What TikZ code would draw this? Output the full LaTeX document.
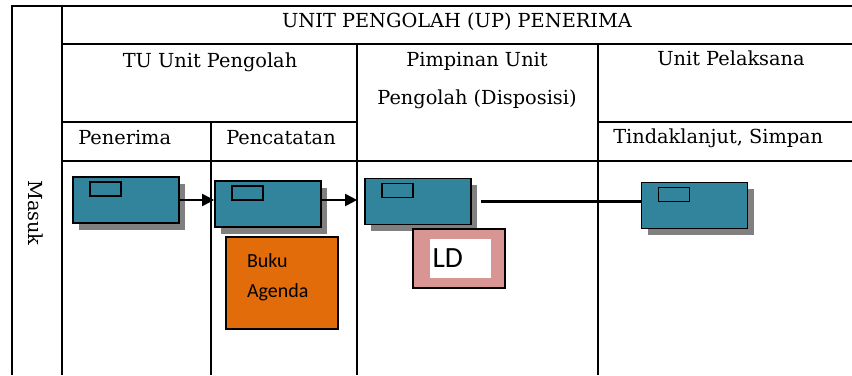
\documentclass[tikz,border=0pt]{standalone}
\usepackage{fontspec}
\setmainfont{DejaVu Serif}
\newfontfamily\calibfont{Carlito}
\usetikzlibrary{arrows.meta,shadows,positioning}

\definecolor{docteal}{RGB}{49,132,155}
\definecolor{agendaorange}{RGB}{227,108,10}
\definecolor{ldpink}{RGB}{217,149,148}

\begin{document}
\begin{tikzpicture}[
  x=0.75pt, y=-0.75pt,
  font=\fontsize{14.5}{17}\selectfont,
  grid/.style={line width=1.9pt},
  doc/.style={rectangle, draw, line width=1.3pt, fill=docteal, minimum width=79.5pt, minimum height=34.5pt, inner sep=0pt,
    drop shadow={shadow xshift=4.5pt, shadow yshift=-5pt, fill=black!50, opacity=1}},
  tab/.style={rectangle, draw, line width=1.2pt, fill=docteal, minimum width=23.25pt, minimum height=10.5pt, inner sep=0pt, anchor=north west},
  hd/.style={anchor=base, inner sep=0pt},
  arrow/.style={-{Triangle[length=9pt,width=9pt]}, line width=1.6pt},
  link/.style={line width=1.6pt}
]
\useasboundingbox (0,0) rectangle (852,375);

% table rules
\draw[grid] (12,375) -- (12,6) -- (852,6);
\draw[grid] (62,6) -- (62,375);
\draw[grid] (62,44) -- (852,44);
\draw[grid] (62,122) -- (357,122);
\draw[grid] (598,122) -- (852,122);
\draw[grid] (62,161) -- (852,161);
\draw[grid] (357,44) -- (357,375);
\draw[grid] (598,44) -- (598,375);
\draw[grid] (211,122) -- (211,375);

% headers
\node[hd] (title) at (457,27) {UNIT PENGOLAH (UP) PENERIMA};
\node[hd] (tu) at (210,67) {TU Unit Pengolah};
\node[hd] (pim1) at (477,66) {Pimpinan Unit};
\node[hd] (pim2) at (477,104) {Pengolah (Disposisi)};
\node[hd] (pel) at (731,65) {Unit Pelaksana};
\node[hd, anchor=base west] (ptr) at (78,144) {Penerima};
\node[hd, anchor=base west] (pct) at (226,144) {Pencatatan};
\node[hd, anchor=base west] (tls) at (613,143) {Tindaklanjut, Simpan};
\node[rotate=-90] (masuk) at (36,213) {Masuk};

% documents
\node[doc] (d1) at (126,200) {};
\node[doc] (d2) at (268,204) {};
\node[doc] (d3) at (418,201.5) {};
\node[doc] (d4) at (694.5,205.5) {};
\foreach \d in {d1,d2,d3,d4}
  \node[tab] (t\d) at ([xshift=12.75pt,yshift=-3.75pt]\d.north west) {};

% notes
\node[rectangle, draw, line width=1.2pt, fill=agendaorange, minimum width=84pt, minimum height=69pt,
  inner xsep=15.75pt, text width=52.5pt, text depth=33pt, align=left,
  font=\calibfont\fontsize{15}{22.5}\selectfont] (agenda) at (282,283) {Buku\\Agenda};
\node[rectangle, draw, line width=1.3pt, fill=ldpink, minimum width=69pt, minimum height=44.25pt] (ld) at (459,258.5) {};
\node[fill=white, minimum height=29.25pt, inner xsep=2pt, text width=41.75pt, align=left,
  font=\calibfont\fontsize{22}{26}\selectfont] (ldtxt) at (460.5,258.5) {LD};

% flow
\draw[arrow] (d1.east) -- (d1.east -| d2.west);
\draw[arrow, shorten >=5.25pt] (d2.east |- d1.east) -- (d3.west |- d1.east);
\draw[link, shorten <=6.75pt] (d3.east) -- (d3.east -| d4.west);
\end{tikzpicture}
\end{document}
